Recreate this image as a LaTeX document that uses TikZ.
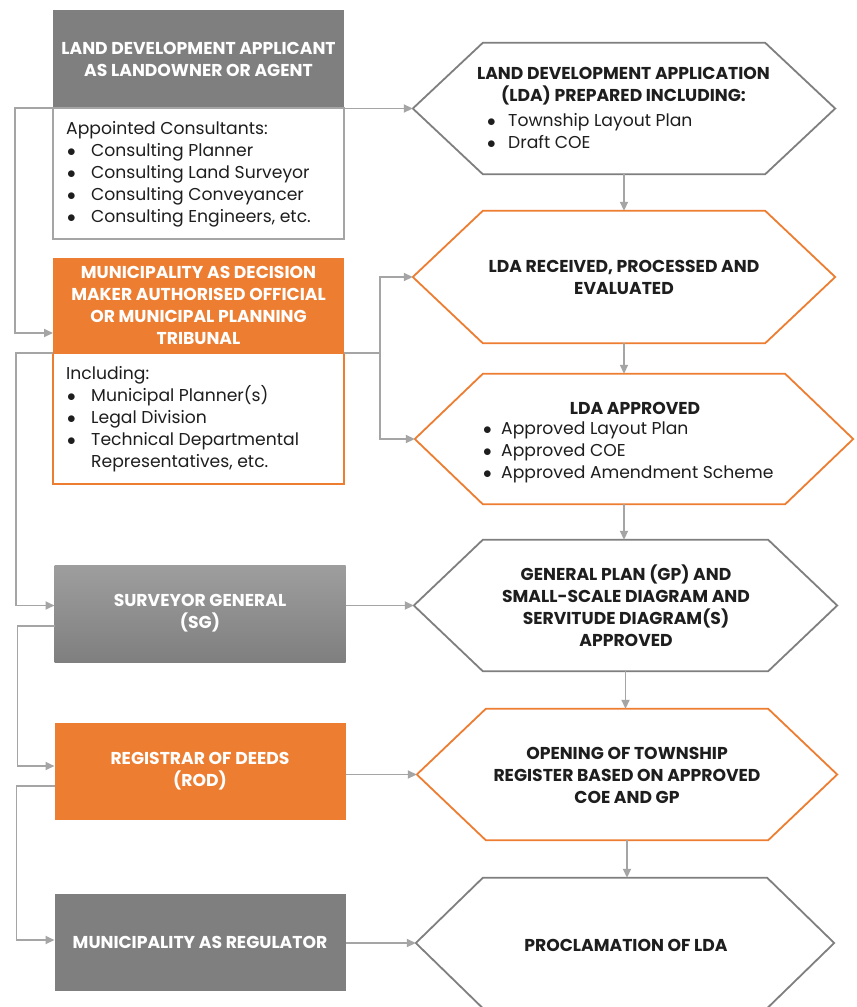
\documentclass[tikz,border=0pt]{standalone}
\usepackage{fontspec}
\setmainfont{Poppins}
\usetikzlibrary{arrows.meta,calc}
\definecolor{boxgray}{HTML}{7F7F7F}
\definecolor{sgtop}{HTML}{9E9E9E}
\definecolor{orng}{HTML}{ED7D31}
\definecolor{linegray}{HTML}{A5A5A5}
\definecolor{hexgray}{HTML}{7F7F7F}
\definecolor{txt}{HTML}{1E1E1E}
\newcommand\hexframe[3]{%
  \draw[hexline,draw=#3] (#1.north west) -- (#1.north east) -- ($(#1.east)+(#2,0)$) -- (#1.south east) -- (#1.south west) -- ($(#1.west)+(-#2,0)$) -- cycle;
  \coordinate (#1-w) at ($(#1.west)+(-#2,0)$);}
\newcommand\bul[1]{\makebox[#1][l]{\hspace*{1pt}$\bullet$}}
\begin{document}
\begin{tikzpicture}[x=1pt,y=-1pt,
  hdr/.style={font=\fontsize{17.2}{22}\selectfont\bfseries, align=center, inner sep=0pt},
  bodytxt/.style={font=\fontsize{17.2}{22}\selectfont, align=left, text=txt, inner sep=0pt, anchor=west},
  lbox/.style={rectangle, minimum width=291pt, inner sep=0pt, outer sep=0pt},
  hexin/.style={rectangle, draw=none, inner sep=0pt, minimum height=131pt},
  hexline/.style={line width=1.8pt, line join=miter},
  conn/.style={draw=linegray, line width=1.8pt, -{Triangle[length=9pt,width=8pt]}},
  connl/.style={draw=linegray, line width=1.8pt}
]
\useasboundingbox (0,0) rectangle (857,1007);
\fill[white] (0,0) rectangle (857,1007);

% left column
\node[lbox, fill=boxgray, minimum height=98pt, text=white, hdr] (b1h) at (198.5,59) {LAND DEVELOPMENT APPLICANT\\AS LANDOWNER OR AGENT};
\node[lbox, draw=linegray, line width=1.5pt, minimum height=131pt] (b1b) at (198.5,173.5) {};
\node[bodytxt] (b1t) at (66,174) {Appointed Consultants:\\\bul{25pt}Consulting Planner\\\bul{25pt}Consulting Land Surveyor\\\bul{25pt}Consulting Conveyancer\\\bul{25pt}Consulting Engineers, etc.};

\node[lbox, fill=orng, minimum height=95pt, text=white, hdr] (b2h) at (198.5,305.5) {MUNICIPALITY AS DECISION\\MAKER AUTHORISED OFFICIAL\\OR MUNICIPAL PLANNING\\TRIBUNAL};
\node[lbox, draw=orng, line width=1.5pt, minimum height=131pt] (b2b) at (198.5,418.5) {};
\node[bodytxt] (b2t) at (66,419) {Including:\\\bul{25pt}Municipal Planner(s)\\\bul{25pt}Legal Division\\\bul{25pt}Technical Departmental\\\hspace*{25pt}Representatives, etc.};

\node[lbox, top color=sgtop, bottom color=boxgray, minimum height=97pt, text=white, hdr] (sg) at (200,613.5) {SURVEYOR GENERAL\\(SG)};
\node[lbox, fill=orng, minimum height=97pt, text=white, hdr] (rod) at (200,771.5) {REGISTRAR OF DEEDS\\(ROD)};
\node[lbox, fill=boxgray, minimum height=97pt, text=white, hdr] (reg) at (200,942.5) {MUNICIPALITY AS REGULATOR};

% right column hexagons
\node[hexin, minimum width=282pt] (h1) at (624,108.5) {};
\hexframe{h1}{70}{hexgray}
\node[hdr, text=txt] (h1t) at (623.5,86.5) {LAND DEVELOPMENT APPLICATION\\(LDA) PREPARED INCLUDING:};
\node[bodytxt] (h1b) at (486,131) {\bul{22pt}Township Layout Plan\\\bul{22pt}Draft COE};

\node[hexin, minimum width=282pt, minimum height=132pt] (h2) at (624,277) {};
\hexframe{h2}{70}{orng}
\node[hdr, text=txt] (h2t) at (624,277) {LDA RECEIVED, PROCESSED AND\\EVALUATED};

\node[hexin, minimum width=302pt, minimum height=130pt] (h3) at (634,439) {};
\hexframe{h3}{68}{orng}
\node[hdr, text=txt] (h3t) at (635,408) {LDA APPROVED};
\node[bodytxt] (h3b) at (482,452) {\bul{19pt}Approved Layout Plan\\\bul{19pt}Approved COE\\\bul{19pt}Approved Amendment Scheme};

\node[hexin, minimum width=285pt] (h4) at (625.5,605.5) {};
\hexframe{h4}{69}{hexgray}
\node[hdr, text=txt] (h4t) at (626,606) {GENERAL PLAN (GP) AND\\SMALL-SCALE DIAGRAM AND\\SERVITUDE DIAGRAM(S)\\APPROVED};

\node[hexin, minimum width=282pt] (h5) at (627,774.5) {};
\hexframe{h5}{69}{orng}
\node[hdr, text=txt] (h5t) at (627,775) {OPENING OF TOWNSHIP\\REGISTER BASED ON APPROVED\\COE AND GP};

\node[hexin, minimum width=284pt, minimum height=130pt] (h6) at (625,943) {};
\hexframe{h6}{67}{hexgray}
\node[hdr, text=txt] (h6t) at (626,945) {PROCLAMATION OF LDA};

% connectors
\draw[conn] (h1-w -| b1h.east) -- (h1-w);
\draw[conn] (b1h.south west) -- ++(-38,0) |- ($(b2h.south west)+(0,-20)$);
\coordinate (j2) at ($(b2h.south east)+(36,0)$);
\draw[connl] (b2h.south east) -- (j2);
\draw[conn] (j2) |- (h2-w);
\draw[conn] (j2) |- (h3-w);
\draw[conn] (b2h.south west) -- ++(-37,0) |- (sg.west |- h4-w);
\draw[conn] (sg.east |- h4-w) -- (h4-w);
\draw[conn] ($(sg.west)+(0,12.5)$) -- ++(-37,0) |- ($(rod.west)+(0,-5.5)$);
\draw[conn] (rod.east |- h5-w) -- (h5-w);
\draw[conn] ($(rod.west)+(0,14.5)$) -- ++(-38,0) |- ($(reg.west)+(0,-2.5)$);
\draw[conn] (reg.east |- h6-w) -- (h6-w);

\draw[conn] (h1.south) -- (h1.south |- h2.north);
\draw[conn] (h2.south) -- (h2.south |- h3.north);
\draw[conn] (h2.south |- h3.south) -- (h2.south |- h4.north);
\draw[conn] (h4.south) -- (h4.south |- h5.north);
\draw[conn] (h5.south) -- (h5.south |- h6.north);
\end{tikzpicture}
\end{document}
